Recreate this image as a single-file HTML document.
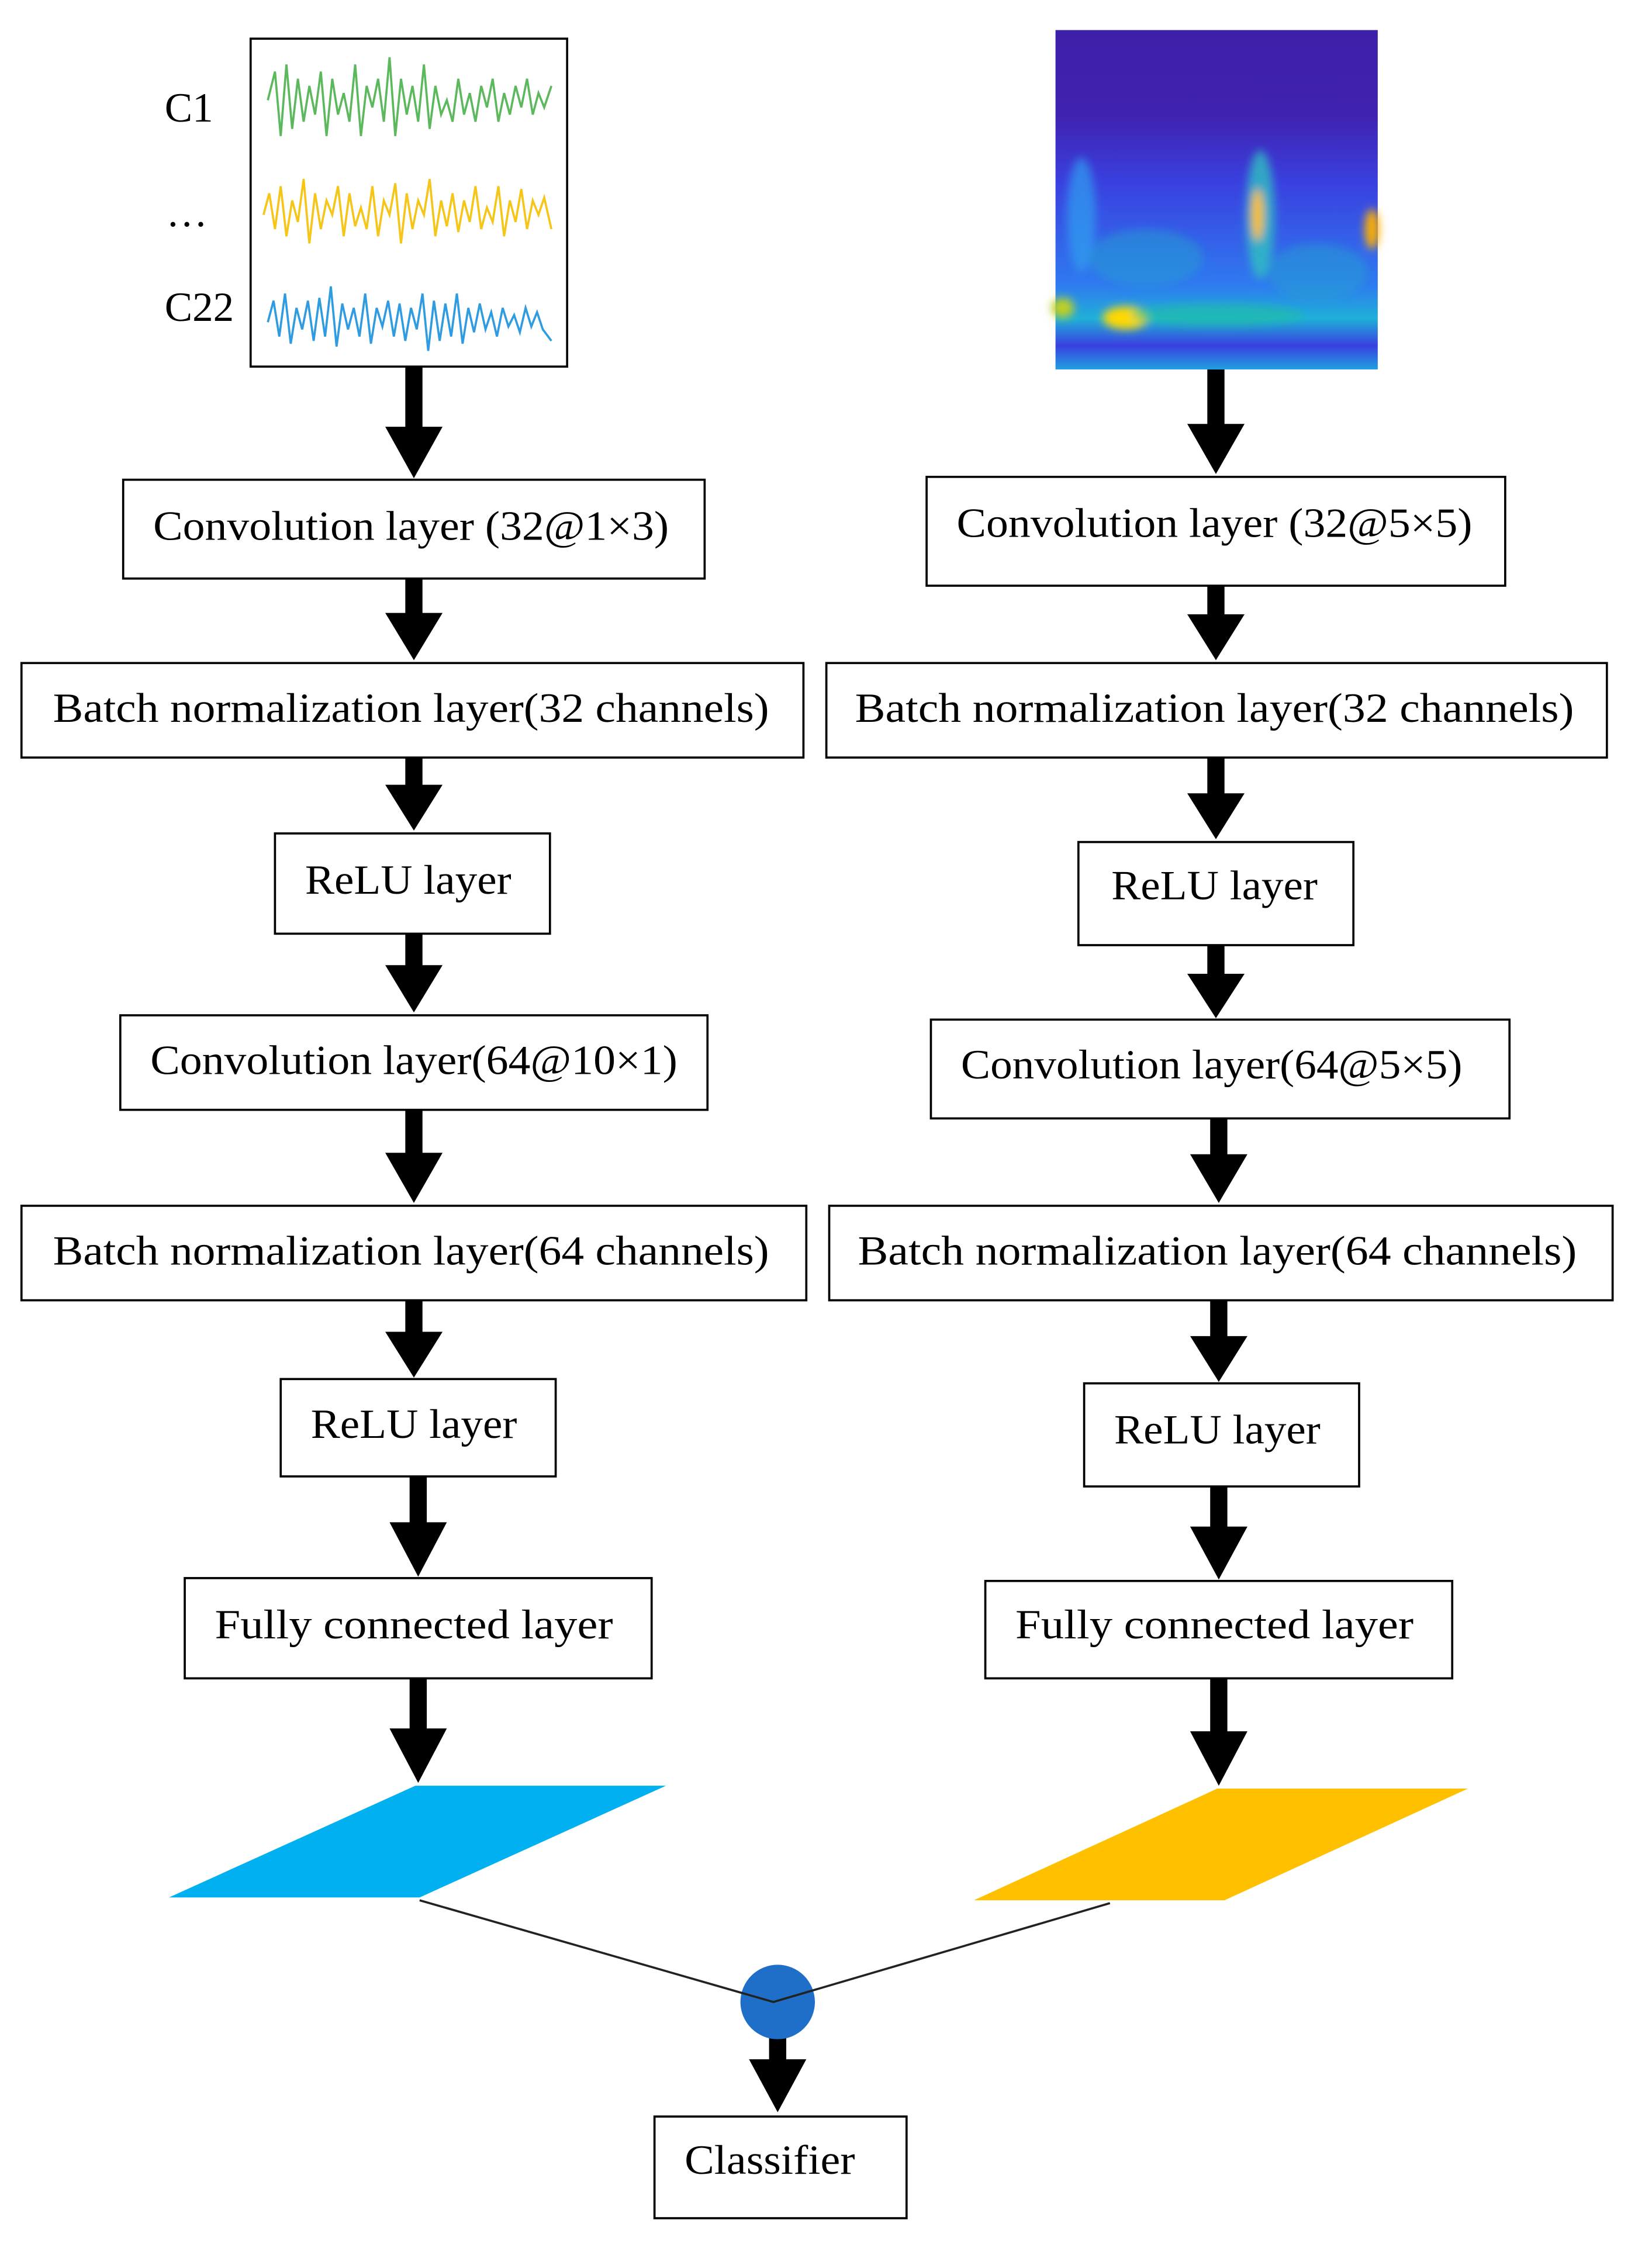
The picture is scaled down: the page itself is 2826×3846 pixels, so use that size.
<!DOCTYPE html>
<html><head><meta charset="utf-8"><style>html,body{margin:0;padding:0;background:#fff}svg{display:block}</style></head>
<body>
<svg width="2826" height="3846" viewBox="0 0 1153.5 1569.8" preserveAspectRatio="none" xmlns="http://www.w3.org/2000/svg">
<defs>
<linearGradient id="sp" x1="0" y1="0" x2="0" y2="1"><stop offset="0" stop-color="#3e1fa8"/><stop offset="0.25" stop-color="#3f22b0"/><stop offset="0.45" stop-color="#3a40e0"/><stop offset="0.75" stop-color="#2f7af0"/><stop offset="0.85" stop-color="#1fb0d8"/><stop offset="0.93" stop-color="#3a40e0"/><stop offset="1" stop-color="#20a0e0"/></linearGradient>
<filter id="bl"><feGaussianBlur stdDeviation="3"/></filter>
</defs>
<style>text{font-family:"Liberation Serif",serif;font-size:29px;fill:#000}</style>
<rect x="175" y="27" width="221" height="229" fill="#fff" stroke="#000" stroke-width="1.5"/>
<text x="115" y="85">C1</text>
<text x="116" y="158">…</text>
<text x="115" y="224">C22</text>
<polyline fill="none" stroke="#5cb85c" stroke-width="1.5" points="187,70 192,50 196,95 200,45 204,90 208,55 212,85 216,60 220,80 224,50 228,95 232,55 236,80 240,65 244,85 248,45 252,95 256,60 260,75 264,55 268,85 272,40 276,95 280,55 284,80 288,60 292,85 296,45 300,90 304,60 308,80 312,70 316,85 320,55 324,80 328,65 332,85 336,60 340,75 344,55 348,85 352,65 356,80 360,60 364,75 368,55 372,80 376,65 380,75 385,60"/>
<polyline fill="none" stroke="#f5c518" stroke-width="1.5" points="184,150 188,135 192,160 196,130 200,165 204,140 208,155 212,125 216,170 220,135 224,160 228,140 232,150 236,130 240,165 244,135 248,158 252,145 256,160 260,130 264,165 268,140 272,150 276,128 280,170 284,135 288,160 292,140 296,150 300,125 304,165 308,140 312,158 316,135 320,162 324,140 328,155 332,130 336,160 340,145 344,155 348,130 352,165 356,140 360,155 364,132 368,160 372,140 376,150 380,138 385,160"/>
<polyline fill="none" stroke="#2f9be0" stroke-width="1.5" points="187,225 191,210 195,235 199,205 203,240 207,215 211,230 215,210 219,238 223,208 227,235 231,200 235,242 239,212 243,230 247,215 251,235 255,205 259,240 263,215 267,228 271,210 275,235 279,212 283,238 287,215 291,230 295,205 299,245 303,210 307,238 311,212 315,235 319,205 323,240 327,215 331,232 335,212 339,230 343,218 347,235 351,215 355,228 359,220 363,232 367,215 371,228 375,218 379,230 385,238"/>
<rect x="737" y="21" width="225" height="237" fill="url(#sp)"/>
<g filter="url(#bl)">
<ellipse cx="755" cy="150" rx="10" ry="40" fill="#2ea0f0" opacity="0.7"/>
<ellipse cx="880" cy="150" rx="10" ry="45" fill="#2ec0c0" opacity="0.8"/>
<ellipse cx="878" cy="150" rx="4" ry="18" fill="#ffc000"/>
<ellipse cx="786" cy="222" rx="16" ry="8" fill="#ffd800"/>
<ellipse cx="742" cy="215" rx="8" ry="7" fill="#c0d020"/>
<ellipse cx="958" cy="160" rx="5" ry="14" fill="#ffb000"/>
<ellipse cx="850" cy="220" rx="60" ry="8" fill="#20c0a0" opacity="0.6"/>
<ellipse cx="800" cy="180" rx="40" ry="20" fill="#20a0d0" opacity="0.5"/>
<ellipse cx="920" cy="190" rx="35" ry="20" fill="#20a0d0" opacity="0.5"/>
</g>
<g fill="#000">
<path d="M283,256h12v42h14l-20,36l-20,-36h14z"/>
<path d="M283,404h12v24h14l-20,33l-20,-33h14z"/>
<path d="M283,529h12v19h14l-20,32l-20,-32h14z"/>
<path d="M283,652h12v22h14l-20,33l-20,-33h14z"/>
<path d="M283,775h12v30h14l-20,35l-20,-35h14z"/>
<path d="M283,908h12v22h14l-20,32l-20,-32h14z"/>
<path d="M286,1031h12v32h14l-20,38l-20,-38h14z"/>
<path d="M286,1172h12v35h14l-20,38l-20,-38h14z"/>
<path d="M843,258h12v38h14l-20,35l-20,-35h14z"/>
<path d="M843,409h12v20h14l-20,32l-20,-32h14z"/>
<path d="M843,529h12v25h14l-20,32l-20,-32h14z"/>
<path d="M843,660h12v20h14l-20,31l-20,-31h14z"/>
<path d="M845,781h12v25h14l-20,34l-20,-34h14z"/>
<path d="M845,908h12v25h14l-20,32l-20,-32h14z"/>
<path d="M845,1038h12v28h14l-20,37l-20,-37h14z"/>
<path d="M845,1172h12v37h14l-20,38l-20,-38h14z"/>
<path d="M537,1420h12v18h14l-20,37l-20,-37h14z"/>
</g>
<g fill="#fff" stroke="#000" stroke-width="1.5">
<rect x="86" y="335" width="406" height="69"/>
<rect x="15" y="463" width="546" height="66"/>
<rect x="192" y="582" width="192" height="70"/>
<rect x="84" y="709" width="410" height="66"/>
<rect x="15" y="842" width="548" height="66"/>
<rect x="196" y="963" width="192" height="68"/>
<rect x="129" y="1102" width="326" height="70"/>
<rect x="647" y="333" width="404" height="76"/>
<rect x="577" y="463" width="545" height="66"/>
<rect x="753" y="588" width="192" height="72"/>
<rect x="650" y="712" width="404" height="69"/>
<rect x="579" y="842" width="547" height="66"/>
<rect x="757" y="966" width="192" height="72"/>
<rect x="688" y="1104" width="326" height="68"/>
<rect x="457" y="1478" width="176" height="71"/>
</g>
<g>
<text x="107" y="377" textLength="360" lengthAdjust="spacingAndGlyphs">Convolution layer (32@1×3)</text>
<text x="37" y="504" textLength="500" lengthAdjust="spacingAndGlyphs">Batch normalization layer(32 channels)</text>
<text x="213" y="624" textLength="144" lengthAdjust="spacingAndGlyphs">ReLU layer</text>
<text x="105" y="750" textLength="368" lengthAdjust="spacingAndGlyphs">Convolution layer(64@10×1)</text>
<text x="37" y="883" textLength="500" lengthAdjust="spacingAndGlyphs">Batch normalization layer(64 channels)</text>
<text x="217" y="1004" textLength="144" lengthAdjust="spacingAndGlyphs">ReLU layer</text>
<text x="150" y="1144" textLength="278" lengthAdjust="spacingAndGlyphs">Fully connected layer</text>
<text x="668" y="375" textLength="360" lengthAdjust="spacingAndGlyphs">Convolution layer (32@5×5)</text>
<text x="597" y="504" textLength="502" lengthAdjust="spacingAndGlyphs">Batch normalization layer(32 channels)</text>
<text x="776" y="628" textLength="144" lengthAdjust="spacingAndGlyphs">ReLU layer</text>
<text x="671" y="753" textLength="350" lengthAdjust="spacingAndGlyphs">Convolution layer(64@5×5)</text>
<text x="599" y="883" textLength="502" lengthAdjust="spacingAndGlyphs">Batch normalization layer(64 channels)</text>
<text x="778" y="1008" textLength="144" lengthAdjust="spacingAndGlyphs">ReLU layer</text>
<text x="709" y="1144" textLength="278" lengthAdjust="spacingAndGlyphs">Fully connected layer</text>
<text x="478" y="1518" textLength="119" lengthAdjust="spacingAndGlyphs">Classifier</text>
</g>
<polygon points="118,1325 290,1247 465,1247 293,1325" fill="#00b0f0"/>
<polygon points="680,1327 850,1249 1025,1249 855,1327" fill="#ffc000"/>
<circle cx="543" cy="1398" r="26" fill="#1f6fc8"/>
<polyline points="293,1327 540,1398 775,1329" fill="none" stroke="#222" stroke-width="1.5"/>
</svg>
</body></html>
